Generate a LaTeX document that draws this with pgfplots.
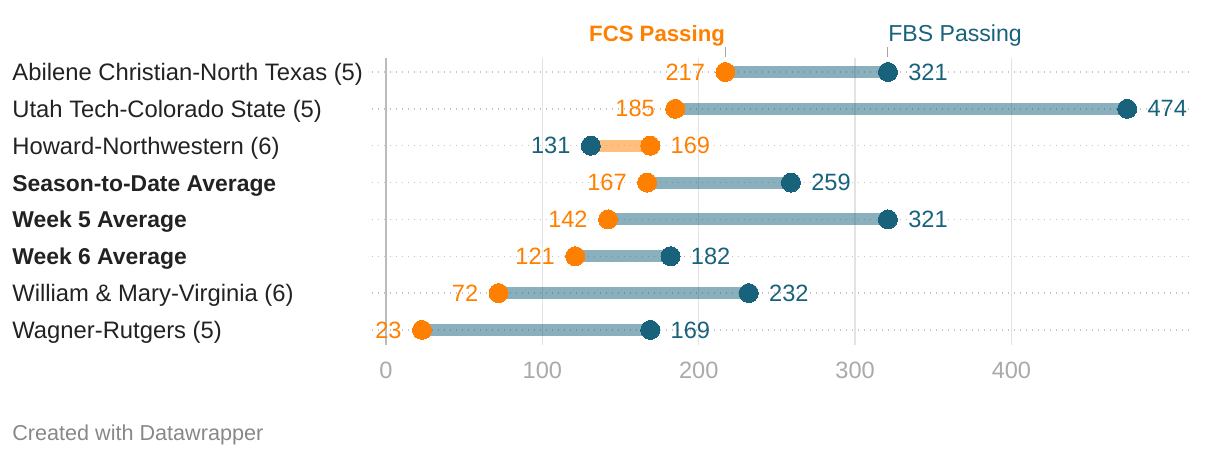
\documentclass[border=0pt]{standalone}
\usepackage{fontspec}
\setmainfont{Liberation Sans}
\usepackage{pgfplots}
\usepackage{pgfplotstable}
\pgfplotsset{compat=1.18}
\definecolor{fcs}{HTML}{FF7F00}
\definecolor{fbs}{HTML}{18627C}
\definecolor{tickgray}{HTML}{AAAAAA}
\definecolor{gridgray}{HTML}{E3E3E3}
\definecolor{axisgray}{HTML}{BBBBBB}
\definecolor{dotgray}{HTML}{C4C4C4}
\definecolor{foot}{HTML}{888888}
\definecolor{txt}{HTML}{222222}
\newcommand\fs{\fontsize{11.8}{14}\selectfont}
\newcommand\fl{\fontsize{11.9}{14}\selectfont}
\newcommand\fb{\fontsize{11.45}{14}\selectfont\bfseries}
\pgfplotstableread{
y fcs fbs
1 217 321
2 185 474
3 169 131
4 167 259
5 142 321
6 121 182
7 72 232
8 23 169
}\data
\begin{document}
\begin{tikzpicture}
\path[use as bounding box] (0,0) rectangle (610pt,229pt);
\begin{axis}[
  at={(186pt,56.5pt)}, anchor=south west, scale only axis,
  width=409pt, height=143.5pt,
  xmin=-8.95, xmax=514.2, ymin=0.62, ymax=8.41, y dir=reverse,
  axis line style={draw=none}, major tick length=0pt,
  xtick={0,100,200,300,400},
  ytick={1,2,3,4,5,6,7,8},
  yticklabels={Abilene Christian-North Texas (5), Utah Tech-Colorado State (5), Howard-Northwestern (6), {\fb Season-to-Date Average}, {\fb Week 5 Average}, {\fb Week 6 Average}, William \& Mary-Virginia (6), Wagner-Rutgers (5)},
  xmajorgrids, ymajorgrids,
  x grid style={gridgray, line width=0.6pt},
  y grid style={dotgray, line width=0.7pt, dash pattern=on 0.7pt off 2.3pt},
  xticklabel style={font=\fs, text=tickgray, anchor=center, inner sep=0pt, yshift=-12.5pt},
  yticklabel style={font=\fl, text=txt, anchor=base west, inner sep=0pt, xshift=-180pt, yshift=-4.25pt},
  /pgf/number format/assume math mode=true,
  clip=false,
  colormap={dumb}{color=(fcs) color=(fbs)}, point meta min=0, point meta max=1,
]
\draw[axisgray, line width=1pt] (axis cs:0,0.62) -- (axis cs:0,8.41);
% bars
\addplot[mark=none, point meta={\thisrow{fbs}>\thisrow{fcs}},
  quiver={u=\thisrow{fbs}-\thisrow{fcs}, v=0, colored,
  every arrow/.append style={-, line width=6pt, draw opacity=0.5}}]
  table[x=fcs, y=y] {\data};
% dots
\addplot[only marks, color=fcs, mark=*, mark size=4.75pt, mark options={fill=fcs, draw=fcs, line width=0pt}] table[x=fcs, y=y] {\data};
\addplot[only marks, color=fbs, mark=*, mark size=4.75pt, mark options={fill=fbs, draw=fbs, line width=0pt}] table[x=fbs, y=y] {\data};
% labels FCS
\addplot[only marks, mark=none, point meta=\thisrow{fcs}, nodes near coords,
  nodes near coords style={font=\fs, text=fcs, anchor=east, inner sep=0pt, xshift=-10pt},
  restrict expr to domain={\thisrow{fbs}-\thisrow{fcs}}{0:10000}] table[x=fcs, y=y] {\data};
\addplot[only marks, mark=none, point meta=\thisrow{fcs}, nodes near coords,
  nodes near coords style={font=\fs, text=fcs, anchor=west, inner sep=0pt, xshift=10pt},
  restrict expr to domain={\thisrow{fbs}-\thisrow{fcs}}{-10000:0}] table[x=fcs, y=y] {\data};
% labels FBS
\addplot[only marks, mark=none, point meta=\thisrow{fbs}, nodes near coords,
  nodes near coords style={font=\fs, text=fbs, anchor=west, inner sep=0pt, xshift=10pt},
  restrict expr to domain={\thisrow{fbs}-\thisrow{fcs}}{0:10000}] table[x=fbs, y=y] {\data};
\addplot[only marks, mark=none, point meta=\thisrow{fbs}, nodes near coords,
  nodes near coords style={font=\fs, text=fbs, anchor=east, inner sep=0pt, xshift=-10pt},
  restrict expr to domain={\thisrow{fbs}-\thisrow{fcs}}{-10000:0}] table[x=fbs, y=y] {\data};
% series titles
\draw[gray!70, line width=0.5pt] ([yshift=7.5pt]axis cs:217,1) -- ([yshift=12.5pt]axis cs:217,1);
\draw[gray!70, line width=0.5pt] ([yshift=7.5pt]axis cs:321,1) -- ([yshift=12.5pt]axis cs:321,1);
\node[font=\fontsize{11.1}{14}\selectfont\bfseries, text=fcs, anchor=base east, inner sep=0pt, yshift=15.25pt] at (axis cs:217,1) {FCS Passing};
\node[font=\fontsize{11.55}{14}\selectfont, text=fbs, anchor=base west, inner sep=0pt, yshift=15.25pt] at (axis cs:321,1) {FBS Passing};
\end{axis}
\node[font=\fontsize{10.8}{13}\selectfont, text=foot, anchor=base west, inner sep=0pt] at (6pt,8.6pt) {Created with Datawrapper};
\end{tikzpicture}
\end{document}
